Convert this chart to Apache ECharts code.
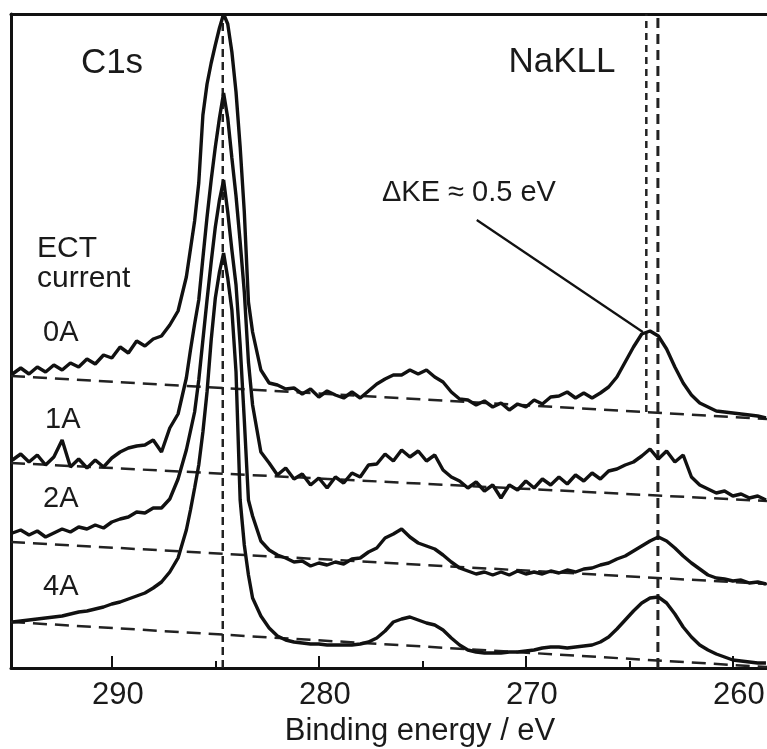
<!DOCTYPE html>
<html><head><meta charset="utf-8">
<script src="https://cdn.jsdelivr.net/npm/echarts@6/dist/echarts.min.js"></script>
<style>html,body{margin:0;padding:0;background:#fff;overflow:hidden;width:767px;height:749px}#chart{width:767px;height:749px;display:block}</style>
</head><body><div id="chart"></div>
<script>
// Binding energy grid (eV)
const energies = [
294.8, 294.4, 294.0, 293.6, 293.2, 292.8, 292.4, 292.0, 291.6, 291.2,
290.8, 290.4, 290.0, 289.6, 289.2, 288.8, 288.4, 288.0, 287.6, 287.2,
286.8, 286.4, 286.2, 286.0, 285.8, 285.6, 285.4, 285.2, 285.0, 284.8,
284.6, 284.4, 284.2, 284.0, 283.8, 283.6, 283.4, 283.2, 282.8, 282.4,
282.0, 281.6, 281.2, 280.8, 280.4, 280.0, 279.6, 279.2, 278.8, 278.4,
278.0, 277.6, 277.2, 276.8, 276.4, 276.0, 275.6, 275.2, 274.8, 274.4,
274.0, 273.6, 273.2, 272.8, 272.4, 272.0, 271.6, 271.2, 270.8, 270.4,
270.0, 269.6, 269.2, 268.8, 268.4, 268.0, 267.6, 267.2, 266.8, 266.4,
266.0, 265.6, 265.2, 264.8, 264.4, 264.0, 263.6, 263.2, 262.8, 262.4,
262.0, 261.6, 261.2, 260.8, 260.4, 260.0, 259.6, 259.2, 258.8, 258.4];

// Intensities (arbitrary units, stacked with offsets)
const spec0A = [
294, 300, 294, 301, 296, 303, 298, 305, 301, 309,
304, 313, 310, 321, 315, 327, 322, 329, 332, 343,
357, 391, 419, 447, 485, 553, 584, 605, 623, 640,
654, 644, 616, 576, 521, 456, 366, 336, 298, 285,
283, 279, 280, 274, 279, 271, 277, 273, 270, 276,
270, 277, 284, 289, 293, 293, 298, 294, 298, 291,
286, 276, 269, 268, 263, 267, 261, 265, 258, 264,
261, 268, 264, 271, 272, 276, 270, 275, 270, 275,
281, 291, 306, 321, 334, 337, 332, 319, 301, 285,
273, 265, 261, 257, 256, 255, 254, 253, 252, 250];
const spec1A = [
208, 214, 206, 213, 203, 211, 228, 201, 209, 200,
208, 201, 210, 216, 220, 222, 223, 228, 216, 240,
254, 290, 318, 344, 368, 410, 451, 488, 521, 550,
575, 550, 510, 472, 426, 376, 306, 263, 216, 205,
193, 200, 189, 194, 183, 190, 180, 191, 185, 195,
191, 203, 204, 214, 207, 218, 211, 217, 207, 213,
198, 191, 187, 180, 186, 177, 183, 170, 183, 178,
187, 180, 189, 183, 191, 184, 193, 187, 195, 189,
197, 199, 203, 206, 212, 219, 209, 217, 206, 213,
191, 183, 179, 175, 177, 172, 174, 170, 172, 168];
const spec2A = [
135, 138, 133, 137, 131, 135, 139, 136, 141, 139,
143, 140, 146, 149, 151, 156, 155, 160, 160, 169,
189, 218, 237, 256, 288, 328, 368, 406, 441, 468,
488, 456, 418, 383, 323, 248, 168, 152, 127, 118,
113, 110, 106, 107, 102, 105, 103, 106, 104, 109,
110, 116, 120, 130, 134, 139, 131, 125, 122, 119,
113, 106, 100, 97, 94, 96, 93, 96, 93, 97,
94, 96, 94, 97, 95, 98, 96, 99, 100, 103,
105, 109, 112, 117, 122, 127, 131, 127, 120, 112,
105, 99, 93, 90, 89, 87, 88, 85, 86, 84];
const spec4A = [
46, 47, 48, 49, 50, 51, 52, 54, 56, 57,
59, 61, 64, 66, 69, 72, 75, 80, 86, 96,
110, 138, 158, 180, 203, 236, 276, 328, 370, 396,
415, 390, 358, 296, 168, 123, 93, 70, 52, 40,
32, 28, 26, 25, 24, 24, 23, 23, 23, 23,
24, 26, 30, 37, 46, 49, 51, 48, 45, 43,
38, 30, 23, 18, 16, 15, 15, 15, 16, 16,
17, 18, 20, 21, 21, 20, 21, 22, 23, 26,
31, 39, 48, 57, 65, 70, 71, 65, 54, 41,
31, 23, 18, 14, 11, 8, 7, 6, 5, 5];

// Dashed background lines [energy, intensity]
const baseline0A = [[294.87, 292], [258.35, 249]];
const baseline1A = [[294.87, 205], [258.35, 167]];
const baseline2A = [[294.87, 126], [258.35, 84]];
const baseline4A = [[294.87, 46], [258.35, 1]];

const c1sLine = 284.64;          // C1s reference position
const naKLLLeft = 264.18;        // NaKLL, 0A
const naKLLRight = 263.62;       // NaKLL, others
const naKLLLeftEnd = 256;        // left line ends on 0A background
const arrowFrom = [272.37, 448];
const arrowTo = [264.35, 336];

const xMin = 258.35, xMax = 294.87, yMin = 0, yMax = 654;
const majorTicks = [260, 270, 280, 290];
const minorTicks = [265, 275, 285];

const FONT = 'Liberation Sans, Arial, Helvetica, sans-serif';
const INK = '#111';

const toPairs = arr => energies.map((e, i) => [e, arr[i]]);

const curve = (name, arr) => ({
  name, type: 'line', data: toPairs(arr), symbol: 'none', silent: true,
  lineStyle: { color: INK, width: 3.4 }, z: 4, animation: false
});
const dashed = (data, dash, w) => ({
  type: 'line', data, symbol: 'none', silent: true,
  lineStyle: { color: '#222', width: w, type: dash }, z: 3, animation: false
});

const chart = echarts.init(document.getElementById('chart'));
chart.setOption({
  backgroundColor: '#fff',
  animation: false,
  grid: { left: 11, top: 14, right: 0, bottom: 81, containLabel: false, outerBoundsMode: 'none' },
  xAxis: [{
    type: 'value', inverse: true, min: xMin, max: xMax,
    axisLine: { show: true, lineStyle: { color: INK, width: 3 } },
    axisTick: { show: true, inside: true, length: 12, customValues: majorTicks,
      lineStyle: { color: INK, width: 2 } },
    axisLabel: { show: true, customValues: majorTicks, fontFamily: FONT, fontSize: 31,
      color: '#1a1a1a', margin: 12, padding: [0, 0, 0, 12] },
    splitLine: { show: false },
    name: 'Binding energy / eV', nameLocation: 'middle', nameGap: 46,
    nameTextStyle: { fontFamily: FONT, fontSize: 31, color: '#1a1a1a', padding: [0, 0, 0, 62] }
  }, {
    type: 'value', inverse: true, min: xMin, max: xMax, position: 'bottom',
    axisLine: { show: false },
    axisTick: { show: true, inside: true, length: 7, customValues: minorTicks,
      lineStyle: { color: INK, width: 2 } },
    axisLabel: { show: false }, splitLine: { show: false }
  }, {
    type: 'value', inverse: true, min: xMin, max: xMax, position: 'top',
    axisLine: { show: true, lineStyle: { color: INK, width: 3 } },
    axisTick: { show: false }, axisLabel: { show: false }, splitLine: { show: false }
  }],
  yAxis: {
    type: 'value', min: yMin, max: yMax,
    axisLine: { show: true, lineStyle: { color: INK, width: 3 } },
    axisTick: { show: false }, axisLabel: { show: false }, splitLine: { show: false }
  },
  series: [
    dashed(baseline0A, [14, 8], 2.5),
    dashed(baseline1A, [14, 8], 2.5),
    dashed(baseline2A, [14, 8], 2.5),
    dashed(baseline4A, [14, 8], 2.5),
    dashed([[c1sLine, yMin], [c1sLine, yMax]], [8, 5], 2.5),
    dashed([[naKLLLeft, naKLLLeftEnd], [naKLLLeft, yMax]], [7, 5], 2.5),
    dashed([[naKLLRight, yMin], [naKLLRight, yMax]], [10, 6], 3),
    curve('0A', spec0A),
    curve('1A', spec1A),
    curve('2A', spec2A),
    Object.assign(curve('4A', spec4A), {
      markLine: {
        silent: true, animation: false, symbol: ['none', 'arrow'], symbolSize: [0, 18],
        lineStyle: { color: INK, width: 2.2, type: 'solid' }, label: { show: false },
        data: [[{ coord: arrowFrom }, { coord: arrowTo }]]
      }
    })
  ],
  graphic: [
    { type: 'text', x: 112, y: 63, style: { text: 'C1s', font: '35px ' + FONT, fill: '#1a1a1a', align: 'center', verticalAlign: 'middle', textAlign: 'center', textVerticalAlign: 'middle' } },
    { type: 'text', x: 562, y: 62, style: { text: 'NaKLL', font: '35px ' + FONT, fill: '#1a1a1a', align: 'center', verticalAlign: 'middle', textAlign: 'center', textVerticalAlign: 'middle' } },
    { type: 'text', x: 382, y: 193, style: { text: 'ΔKE ≈ 0.5 eV', font: '29px ' + FONT, fill: '#1a1a1a', align: 'left', verticalAlign: 'middle', textAlign: 'left', textVerticalAlign: 'middle' } },
    { type: 'text', x: 37, y: 249, style: { text: 'ECT', font: '30px ' + FONT, fill: '#1a1a1a', align: 'left', verticalAlign: 'middle', textAlign: 'left', textVerticalAlign: 'middle' } },
    { type: 'text', x: 37, y: 279, style: { text: 'current', font: '30px ' + FONT, fill: '#1a1a1a', align: 'left', verticalAlign: 'middle', textAlign: 'left', textVerticalAlign: 'middle' } },
    { type: 'text', x: 43, y: 333, style: { text: '0A', font: '29px ' + FONT, fill: '#1a1a1a', align: 'left', verticalAlign: 'middle', textAlign: 'left', textVerticalAlign: 'middle' } },
    { type: 'text', x: 45, y: 420, style: { text: '1A', font: '29px ' + FONT, fill: '#1a1a1a', align: 'left', verticalAlign: 'middle', textAlign: 'left', textVerticalAlign: 'middle' } },
    { type: 'text', x: 43, y: 499, style: { text: '2A', font: '29px ' + FONT, fill: '#1a1a1a', align: 'left', verticalAlign: 'middle', textAlign: 'left', textVerticalAlign: 'middle' } },
    { type: 'text', x: 43, y: 587, style: { text: '4A', font: '29px ' + FONT, fill: '#1a1a1a', align: 'left', verticalAlign: 'middle', textAlign: 'left', textVerticalAlign: 'middle' } }
  ]
});
</script></body></html>
